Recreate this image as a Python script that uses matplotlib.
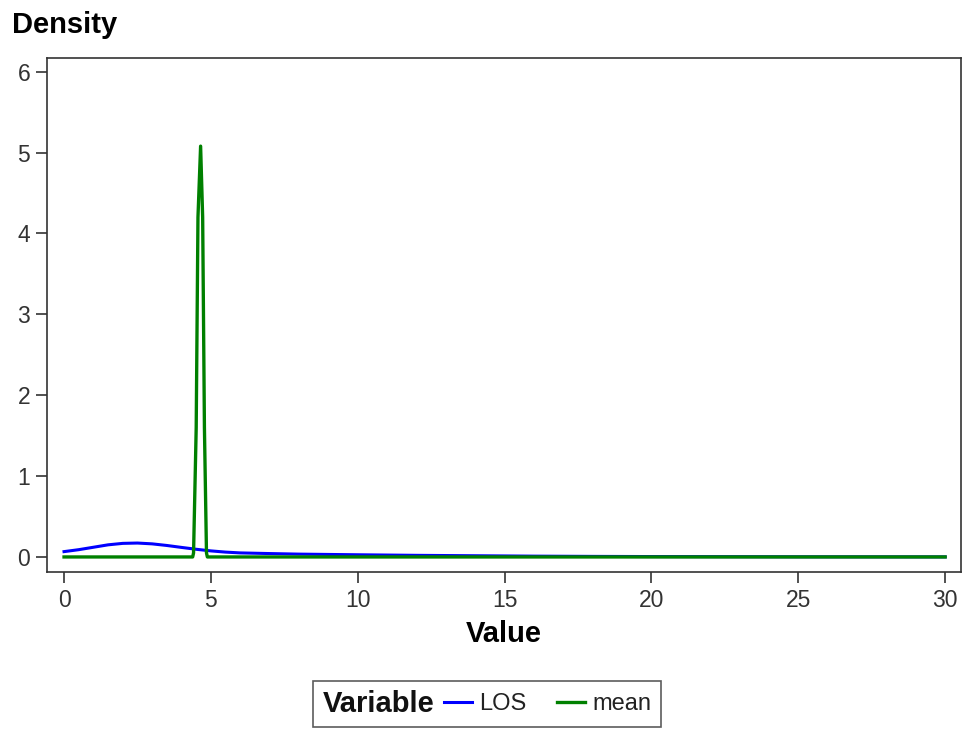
import matplotlib
matplotlib.use("Agg")
import matplotlib.pyplot as plt
from matplotlib.offsetbox import HPacker

plt.rcParams['font.family'] = ['Liberation Sans', 'DejaVu Sans']

# LOS density curve
los_x = [0, 0.5, 1, 1.5, 2, 2.5, 3, 3.5, 4, 4.5, 5, 5.5, 6, 7, 8, 10, 12, 14, 16, 18, 20, 25, 30]
los_y = [0.066, 0.09, 0.12, 0.15, 0.168, 0.172, 0.162, 0.142, 0.118, 0.095, 0.075, 0.06,
         0.05, 0.042, 0.035, 0.027, 0.02, 0.015, 0.01, 0.007, 0.005, 0.002, 0.001]

# mean density curve
mean_x = [0, 4.38, 4.41, 4.50, 4.56, 4.65, 4.72, 4.78, 4.85, 4.88, 30]
mean_y = [0, 0, 0.05, 1.6, 4.2, 5.08, 4.2, 1.6, 0.05, 0, 0]

xticks = [0, 5, 10, 15, 20, 25, 30]
yticks = [0, 1, 2, 3, 4, 5, 6]

fig = plt.figure(figsize=(9.63, 7.30), dpi=100)
ax = fig.add_axes([47/963, 1-572/730, (961-47)/963, (572-58)/730])

l1, = ax.plot(los_x, los_y, color='#0000FF', lw=2.2, label='LOS')
l2, = ax.plot(mean_x, mean_y, color='#008000', lw=2.4, label='mean')

ax.set_xlim(-0.58, 30.54)
ax.set_ylim(-0.186, 6.17)
ax.set_xticks(xticks)
ax.set_yticks(yticks)
ax.tick_params(axis='both', direction='out', length=8, width=1.2, labelsize=16.5,
               color='#333333', labelcolor='#333333', pad=4)
for s in ax.spines.values():
    s.set_color('#333333')
    s.set_linewidth(1.2)

ax.set_xlabel('Value', fontsize=21, fontweight='bold', labelpad=6)
fig.text(12/963, 1-25/730, 'Density', fontsize=21, fontweight='bold', va='center', ha='left')

leg = fig.legend([l1, l2], ['LOS', 'mean'], ncol=2, title='Variable',
                 title_fontproperties={'weight': 'bold', 'size': 21},
                 loc='center', bbox_to_anchor=(487/963, 1-704/730),
                 fontsize=17, frameon=True, fancybox=False, edgecolor='#333333',
                 handlelength=1.2, handletextpad=0.3, columnspacing=1.3,
                 borderpad=0.4, borderaxespad=0)
# place the legend title to the left of the entries
fs = leg._fontsize
box = HPacker(pad=leg.borderpad * fs, sep=0.4 * fs, align='center',
              children=[leg._legend_title_box, leg._legend_handle_box])
box.set_figure(fig)
leg._legend_box = box
leg._set_loc(leg._loc)
leg.get_frame().set_linewidth(1.2)
for t in leg.get_texts():
    t.set_color('#222222')
leg.get_title().set_color('#111111')

fig.savefig('out.png', dpi=100)
